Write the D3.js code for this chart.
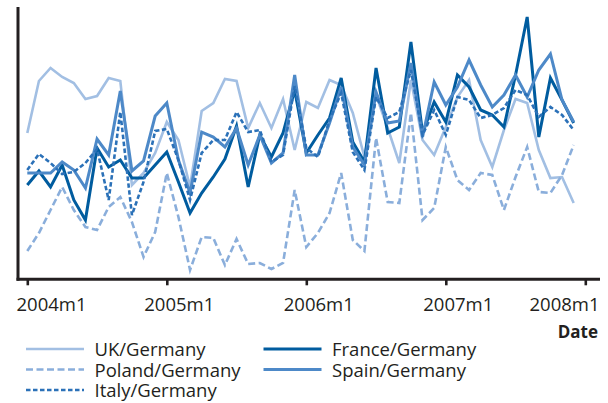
<!DOCTYPE html>
<html>
<head>
<meta charset="utf-8">
<script src="https://cdn.jsdelivr.net/npm/d3@7"></script>
<style>
  html, body { margin: 0; padding: 0; background: #fff; }
  svg { display: block; font-family: "Open Sans", sans-serif; }
</style>
</head>
<body>
<div id="chart"></div>
<script>
// Months since 2004m1 (0 = 2004m1 ... 47 = 2007m12)
const months = d3.range(48);

// Series values (arbitrary index)
const ukGermany = [145,197,210,201,195,179,182,200,197,93,105,125,156,138,91,167,175,199,197,150,175,150,179,128,
                   176,170,198,193,165,121,183,150,115,198,138,123,151,181,198,138,111,148,179,175,128,100,101,75];
const franceGermany = [93,107,91,113,78,58,130,111,118,100,100,113,126,96,65,85,101,119,152,91,143,121,145,188,
                       125,143,160,200,136,116,210,145,151,236,145,176,156,203,191,168,163,151,203,261,141,200,178,155];
const polandGermany = [27,45,68,91,68,51,48,71,81,56,21,46,105,61,8,41,40,13,39,14,15,9,15,88,
                       31,45,65,105,38,27,140,76,75,165,58,70,131,98,88,105,103,68,101,131,86,85,103,133];
const spainGermany = [105,105,105,116,108,90,139,123,187,107,117,162,175,118,85,146,141,131,150,113,143,115,125,203,
                      123,123,155,191,131,113,186,155,157,215,141,196,173,191,218,193,171,183,203,181,208,224,178,156];
const italyGermany = [108,124,115,104,106,115,129,78,166,63,96,147,149,118,78,125,138,138,166,146,148,116,123,192,
                      130,121,158,185,126,108,181,160,166,208,143,168,143,181,178,160,163,170,188,183,161,171,163,148];

// Tick labels on the time axis
const tickMonths = [0, 12, 24, 36, 48];
const tickLabels = ["2004m1", "2005m1", "2006m1", "2007m1", "2008m1"];

const series = [
    { name: "UK/Germany", values: ukGermany, color: "#a2bfe3", width: 2.6, dash: null },
    { name: "France/Germany", values: franceGermany, color: "#005c9f", width: 3, dash: null },
    { name: "Poland/Germany", values: polandGermany, color: "#8aaedb", width: 2.6, dash: "7,3.5" },
    { name: "Spain/Germany", values: spainGermany, color: "#4d89c8", width: 3, dash: null },
    { name: "Italy/Germany", values: italyGermany, color: "#2b71b8", width: 2.6, dash: "4.5,2.5" }
];

const width = 608, height = 403;
const svg = d3.select("#chart").append("svg")
    .attr("width", width)
    .attr("height", height);

const x = d3.scaleLinear().domain([0, 48]).range([27.3, 585.3]);
const y = d3.scaleLinear().domain([0, 271]).range([278, 7]);

// data lines
const line = d3.line()
    .x((d, i) => x(months[i]))
    .y(d => y(d));

series.forEach(s => {
    svg.append("path")
        .datum(s.values)
        .attr("d", line)
        .attr("fill", "none")
        .attr("stroke", s.color)
        .attr("stroke-width", s.width)
        .attr("stroke-linejoin", "miter")
        .attr("stroke-dasharray", s.dash);
});

// axes
const axisColor = "#231f20";
const axisY = 279.3;

const xAxis = d3.axisBottom(x)
    .tickValues(tickMonths)
    .tickSize(6)
    .tickSizeOuter(0)
    .tickFormat((d, i) => tickLabels[i]);

const gx = svg.append("g")
    .attr("transform", `translate(0,${axisY})`)
    .call(xAxis);
gx.select(".domain").remove();
gx.selectAll(".tick line")
    .attr("stroke", axisColor)
    .attr("stroke-width", 2.6);
gx.selectAll(".tick text")
    .attr("fill", "#231f20")
    .attr("font-size", "18.5px")
    .attr("font-family", "Open Sans, sans-serif")
    .attr("y", 0)
    .attr("dy", 0)
    .attr("text-anchor", "start")
    .each(function(d) {
        const w = this.getComputedTextLength();
        let start = x(d) + 12 - w / 2;
        start = Math.max(16, Math.min(start, 599 - w));
        d3.select(this).attr("x", start - x(d)).attr("y", 32);
    });

// spines
svg.append("line")
    .attr("x1", 16.5).attr("x2", 600)
    .attr("y1", axisY).attr("y2", axisY)
    .attr("stroke", axisColor).attr("stroke-width", 3);
svg.append("line")
    .attr("x1", 18).attr("x2", 18)
    .attr("y1", y(271)).attr("y2", axisY + 1.5)
    .attr("stroke", axisColor).attr("stroke-width", 3);

// axis title
svg.append("text")
    .attr("x", 598)
    .attr("y", 338)
    .attr("text-anchor", "end")
    .attr("font-size", "17px")
    .attr("font-weight", "bold")
    .attr("fill", "#231f20")
    .text("Date");

// legend, two columns filled row by row
const legendCols = [26, 263.5];
const legendRows = [349, 369.5, 390];
series.forEach((s, i) => {
    const cx = legendCols[i % 2];
    const cy = legendRows[Math.floor(i / 2)];
    svg.append("line")
        .attr("x1", cx).attr("x2", cx + 58)
        .attr("y1", cy).attr("y2", cy)
        .attr("stroke", s.color)
        .attr("stroke-width", s.width)
        .attr("stroke-dasharray", s.dash);
    svg.append("text")
        .attr("x", cx + 68.5)
        .attr("y", cy + 7)
        .attr("font-size", "18.5px")
        .attr("fill", "#231f20")
        .text(s.name);
});
</script>
</body>
</html>
